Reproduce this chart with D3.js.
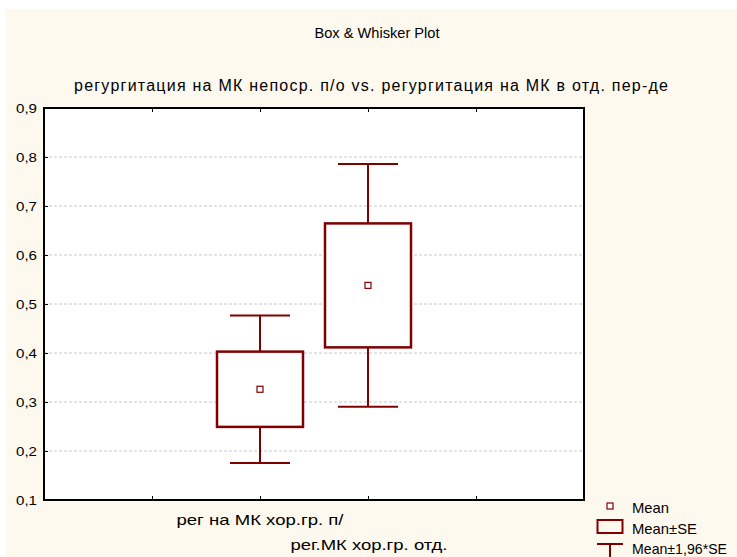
<!DOCTYPE html>
<html>
<head>
<meta charset="utf-8">
<script src="https://cdn.jsdelivr.net/npm/d3@7/dist/d3.min.js"></script>
<style>
  html, body { margin: 0; padding: 0; background: #ffffff; }
  svg { display: block; }
  text { font-family: "Liberation Sans", Arial, sans-serif; fill: #000; }
</style>
</head>
<body>
<script>
// Group labels (two lines, staggered) and summary statistics
const categories = ["рег на МК хор.гр. п/", "рег.МК хор.гр. отд."];
const means = [0.326, 0.538];
const stdErrors = [0.0768, 0.1265];
const yTicks = [0.1, 0.2, 0.3, 0.4, 0.5, 0.6, 0.7, 0.8, 0.9];
const legendItems = ["Mean", "Mean±SE", "Mean±1,96*SE"];
const chartTitle = "Box & Whisker Plot";
const subTitle = "регургитация на МК непоср. п/о vs. регургитация на МК в   отд. пер-де";

const W = 737, H = 557;
const red = "#800000";
const FONT = "Liberation Sans, Arial, sans-serif";
const margin = { left: 44, right: 153, top: 108, bottom: 57 };

const svg = d3.select("body").append("svg").attr("width", W).attr("height", H);

// cream page background
svg.append("rect").attr("x", 6).attr("y", 9).attr("width", W - 6).attr("height", H - 9)
  .attr("fill", "#fef9ee");

const x = d3.scaleLinear().domain([0, 5]).range([margin.left, W - margin.right]);
const y = d3.scaleLinear().domain([0.1, 0.9]).range([H - margin.bottom, margin.top]);

// plot area
svg.append("rect")
  .attr("x", x(0)).attr("y", y(0.9))
  .attr("width", x(5) - x(0)).attr("height", y(0.1) - y(0.9))
  .attr("fill", "#ffffff");

// horizontal grid
svg.append("g").selectAll("line")
  .data(yTicks.filter(v => v > 0.1 && v < 0.9))
  .join("line")
  .attr("x1", x(0)).attr("x2", x(5))
  .attr("y1", d => y(d)).attr("y2", d => y(d))
  .attr("stroke", "#c8c8c8").attr("stroke-width", 1)
  .attr("stroke-dasharray", "3,2");

// y axis with inward ticks
const yAxis = svg.append("g").attr("transform", `translate(${x(0)},0)`)
  .call(d3.axisRight(y).tickValues(yTicks).tickSize(4)
    .tickFormat(d => d3.format(".1f")(d).replace(".", ",")));
yAxis.select(".domain").remove();
yAxis.selectAll(".tick line").attr("stroke", "#000");
yAxis.selectAll(".tick text")
  .attr("x", -7).attr("text-anchor", "end").attr("dy", "0.36em")
  .attr("textLength", 21).attr("lengthAdjust", "spacingAndGlyphs")
  .style("font-size", "13.5px").style("font-family", FONT);

// x ticks on top and bottom, inward
const xTickVals = [1, 2, 3, 4];
const xBottom = svg.append("g").attr("transform", `translate(0,${y(0.1)})`)
  .call(d3.axisTop(x).tickValues(xTickVals).tickSize(4).tickFormat(""));
xBottom.select(".domain").remove();
xBottom.selectAll(".tick line").attr("stroke", "#000");
const xTop = svg.append("g").attr("transform", `translate(0,${y(0.9)})`)
  .call(d3.axisBottom(x).tickValues(xTickVals).tickSize(4).tickFormat(""));
xTop.select(".domain").remove();
xTop.selectAll(".tick line").attr("stroke", "#000");

// frame
svg.append("rect")
  .attr("x", x(0)).attr("y", y(0.9))
  .attr("width", x(5) - x(0)).attr("height", y(0.1) - y(0.9))
  .attr("fill", "none").attr("stroke", "#000").attr("stroke-width", 2);

// boxes and whiskers
const groups = categories.map((c, i) => ({
  name: c, pos: i + 2, mean: means[i], se: stdErrors[i]
}));
const boxHalf = 43, capHalf = 30;
const g = svg.append("g").selectAll("g").data(groups).join("g");

g.append("line")
  .attr("x1", d => x(d.pos)).attr("x2", d => x(d.pos))
  .attr("y1", d => y(d.mean + 1.96 * d.se)).attr("y2", d => y(d.mean - 1.96 * d.se))
  .attr("stroke", red).attr("stroke-width", 2);
[1, -1].forEach(s => {
  g.append("line")
    .attr("x1", d => x(d.pos) - capHalf).attr("x2", d => x(d.pos) + capHalf)
    .attr("y1", d => y(d.mean + s * 1.96 * d.se))
    .attr("y2", d => y(d.mean + s * 1.96 * d.se))
    .attr("stroke", red).attr("stroke-width", 2);
});
g.append("rect")
  .attr("x", d => x(d.pos) - boxHalf).attr("width", boxHalf * 2)
  .attr("y", d => y(d.mean + d.se)).attr("height", d => y(d.mean - d.se) - y(d.mean + d.se))
  .attr("fill", "#ffffff").attr("stroke", red).attr("stroke-width", 2.5);
g.append("rect")
  .attr("x", d => x(d.pos) - 3).attr("y", d => y(d.mean) - 3)
  .attr("width", 6).attr("height", 6)
  .attr("fill", "#ffffff").attr("stroke", red).attr("stroke-width", 1.2);

// category labels, alternating rows
const labelWidths = [167, 157];
svg.append("g").selectAll("text").data(groups).join("text")
  .attr("x", d => x(d.pos) - (d.pos === 2 ? 0 : -1))
  .attr("y", (d, i) => y(0.1) + 25 + i * 25)
  .attr("text-anchor", "middle")
  .attr("textLength", (d, i) => labelWidths[i]).attr("lengthAdjust", "spacingAndGlyphs")
  .style("font-size", "15px")
  .text(d => d.name);

// titles
svg.append("text").attr("x", 377).attr("y", 38).attr("text-anchor", "middle")
  .attr("textLength", 125).attr("lengthAdjust", "spacingAndGlyphs")
  .style("font-size", "15px").text(chartTitle);
svg.append("text").attr("x", 371).attr("y", 91).attr("text-anchor", "middle")
  .attr("textLength", 594).attr("lengthAdjust", "spacing")
  .style("font-size", "16px").text(subTitle);

// legend
const lx = 610;
svg.append("rect").attr("x", lx - 3).attr("y", 506 - 3).attr("width", 6).attr("height", 6)
  .attr("fill", "#ffffff").attr("stroke", red).attr("stroke-width", 1.2);
svg.append("rect").attr("x", lx - 12.5).attr("y", 520).attr("width", 25).attr("height", 13)
  .attr("fill", "none").attr("stroke", red).attr("stroke-width", 2);
svg.append("line").attr("x1", lx - 13).attr("x2", lx + 13).attr("y1", 544).attr("y2", 544)
  .attr("stroke", red).attr("stroke-width", 2);
svg.append("line").attr("x1", lx).attr("x2", lx).attr("y1", 544).attr("y2", 557)
  .attr("stroke", red).attr("stroke-width", 2);
const legendWidths = [37, 65, 95];
svg.append("g").selectAll("text").data(legendItems).join("text")
  .attr("x", 632).attr("y", (d, i) => 513 + i * 20.5)
  .attr("textLength", (d, i) => legendWidths[i]).attr("lengthAdjust", "spacingAndGlyphs")
  .style("font-size", "15px")
  .text(d => d);
</script>
</body>
</html>
